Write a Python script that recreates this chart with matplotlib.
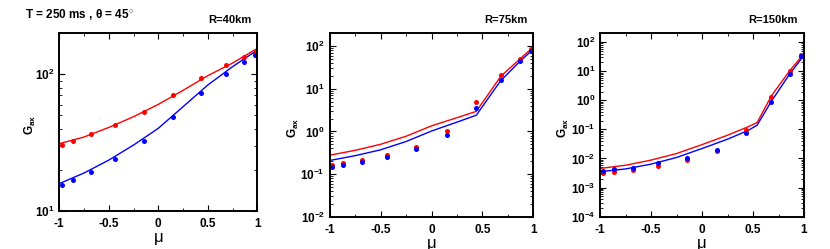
import matplotlib
matplotlib.use("Agg")
import matplotlib.pyplot as plt
from matplotlib.ticker import LogLocator, MultipleLocator, NullFormatter

plt.rcParams['font.family'] = ['Liberation Sans', 'DejaVu Sans']
plt.rcParams['font.weight'] = 'bold'
plt.rcParams['mathtext.fontset'] = 'custom'
plt.rcParams['mathtext.rm'] = 'Liberation Sans:bold'
plt.rcParams['mathtext.bf'] = 'Liberation Sans:bold'

# angle points (10-point Gauss-Legendre nodes)
mu_pts = [-0.974, -0.865, -0.679, -0.433, -0.149, 0.149, 0.433, 0.679, 0.865, 0.974]

# R = 40 km
red_pts_40 = [30.3, 32.3, 36.3, 42.7, 53.2, 70.5, 93.5, 116.4, 134, 144]
blue_pts_40 = [15.4, 16.7, 19.3, 24.0, 32.4, 48.4, 73.0, 100.5, 124, 138.7]
mu_line_40 = [-1, -0.75, -0.5, -0.25, 0, 0.25, 0.5, 0.75, 1]
red_line_40 = [31, 34.7, 40.8, 48.9, 60.2, 76.3, 97.8, 121, 155]
blue_line_40 = [15.8, 18.9, 23.5, 30.3, 40.2, 57.9, 83.5, 113.8, 150.7]

# R = 75 km
red_pts_75 = [0.162, 0.18, 0.211, 0.277, 0.434, 1.05, 4.99, 21, 50.6, 86.6]
blue_pts_75 = [0.150, 0.164, 0.194, 0.253, 0.383, 0.828, 3.6, 16.3, 44.6, 79]
mu_line_75 = [-1, -0.75, -0.5, -0.25, 0, 0.25, 0.44, 0.68, 0.86, 1]
red_line_75 = [0.277, 0.36, 0.5, 0.77, 1.35, 2.1, 2.95, 19.5, 48, 95]
blue_line_75 = [0.208, 0.27, 0.37, 0.58, 1.02, 1.65, 2.4, 15.5, 42, 85]

# R = 150 km
red_pts_150 = [0.00306, 0.0034, 0.0041, 0.0056, 0.0088, 0.0178, 0.0936, 1.3, 9.86, 36.8]
blue_pts_150 = [0.00378, 0.0042, 0.0049, 0.00674, 0.0105, 0.0193, 0.0758, 0.9, 8.0, 32.3]
mu_line_150 = [-1, -0.745, -0.5, -0.25, 0, 0.25, 0.45, 0.54, 0.68, 0.86, 1]
red_line_150 = [0.00454, 0.0059, 0.0088, 0.0148, 0.030, 0.063, 0.122, 0.171, 1.41, 10.4, 39.8]
blue_line_150 = [0.0035, 0.0044, 0.0064, 0.0108, 0.022, 0.046, 0.091, 0.139, 0.92, 8.0, 34.9]

panels = [
    ("R=40km", (10, 200), [10, 100], red_pts_40, blue_pts_40,
     mu_line_40, red_line_40, blue_line_40),
    ("R=75km", (1e-2, 200), [1e-2, 1e-1, 1, 10, 100], red_pts_75, blue_pts_75,
     mu_line_75, red_line_75, blue_line_75),
    ("R=150km", (1e-4, 200), [1e-4, 1e-3, 1e-2, 1e-1, 1, 10, 100], red_pts_150, blue_pts_150,
     mu_line_150, red_line_150, blue_line_150),
]

W, H = 830, 249
fig = plt.figure(figsize=(W / 100, H / 100), dpi=100)

# axes boxes in pixels: left, top, right, bottom
boxes = [(59.3, 33.3, 257.3, 210.7), (329.7, 33.3, 533.3, 216.7), (600, 33.3, 804, 216.7)]
ylab_x = [30, 293, 563]

for (label, ylim, yticks, rp, bp, ml, rl, bl), (l, t, r, b), yx in zip(panels, boxes, ylab_x):
    ax = fig.add_axes([l / W, 1 - b / H, (r - l) / W, (b - t) / H])
    ax.plot(ml, rl, color='#ff0000', lw=1.0)
    ax.plot(ml, bl, color='#0000ff', lw=1.0)
    ax.plot(mu_pts, rp, 'o', color='#ff0000', ms=3.6, mec='none')
    ax.plot(mu_pts, bp, 'o', color='#0000ff', ms=3.6, mec='none')
    ax.set_yscale('log')
    ax.set_xlim(-1, 1)
    ax.set_ylim(*ylim)
    ax.set_yticks(yticks)
    ax.yaxis.set_minor_locator(LogLocator(base=10, subs=range(2, 10), numticks=20))
    ax.yaxis.set_minor_formatter(NullFormatter())
    ax.set_xticks([-1, -0.5, 0, 0.5, 1])
    ax.set_xticklabels(['-1', '-0.5', '0', '0.5', '1'])
    ax.xaxis.set_minor_locator(MultipleLocator(0.25))
    ax.tick_params(which='both', direction='in', top=True, right=True, labelsize=8.5)
    ax.tick_params(which='major', length=4, width=0.8)
    ax.tick_params(which='minor', length=2, width=0.6)
    ax.tick_params(axis='x', pad=5)
    for s in ax.spines.values():
        s.set_linewidth(1.4)
    ax.set_xlabel('μ', fontsize=12, fontweight='normal', labelpad=0)
    fig.text(yx / W, 1 - ((t + b) / 2 + 3) / H, 'G$_{\\mathdefault{ax}}$', rotation=90,
             ha='center', va='center', fontsize=8.5)
    fig.text((r - 6) / W, 1 - 20 / H, label, ha='right', va='center', fontsize=8)

fig.text(25 / W, 1 - 14 / H, 'T = 250 ms , θ = 45$^{\\circ}$', ha='left', va='center', fontsize=8.5)

fig.savefig('out.png', dpi=100)
